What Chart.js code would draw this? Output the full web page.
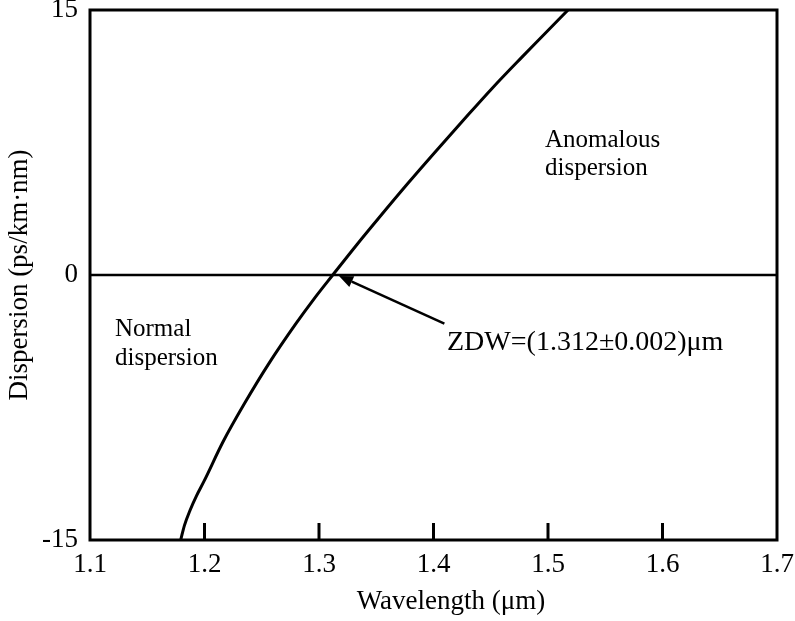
<!DOCTYPE html>
<html><head><meta charset="utf-8">
<script src="https://cdn.jsdelivr.net/npm/chart.js@4.4.0/dist/chart.umd.min.js"></script>
<style>html,body{margin:0;padding:0;background:#fff}</style>
</head><body>
<canvas id="c" width="795" height="621"></canvas>
<script>
const wavelength = [1.1792, 1.1825, 1.1873, 1.1930, 1.1996, 1.2162, 1.2354, 1.2563, 1.2795, 1.2952, 1.312, 1.3332, 1.3515, 1.3777, 1.4009, 1.4262, 1.4511, 1.4766, 1.4974, 1.5175];
const dispersion = [-15, -14.17, -13.33, -12.5, -11.67, -9.44, -7.22, -5.0, -2.78, -1.39, 0, 1.73, 3.17, 5.19, 6.92, 8.77, 10.56, 12.29, 13.67, 15];
const zeroLineX = [1.1, 1.7];
const zeroLineY = [0, 0];
const xTickValues = [1.1, 1.2, 1.3, 1.4, 1.5, 1.6, 1.7];
const yTickValues = [-15, 0, 15];
const xAxisTitle = 'Wavelength (\u03BCm)';
const yAxisTitle = 'Dispersion (ps/km\u00B7nm)';

const FONT = "'Liberation Serif', 'Times New Roman', serif";

const framePlugin = {
  id: 'frame',
  afterDatasetsDraw(chart) {
    const ctx = chart.ctx, a = chart.chartArea;
    const xs = chart.scales.x;
    ctx.save();
    ctx.strokeStyle = '#000';
    ctx.lineWidth = 3;
    xs.ticks.forEach(t => {
      const px = xs.getPixelForValue(t.value);
      if (px > a.left + 2 && px < a.right - 2) {
        ctx.beginPath();
        ctx.moveTo(px, a.bottom);
        ctx.lineTo(px, a.bottom - 17);
        ctx.stroke();
      }
    });
    ctx.strokeRect(a.left, a.top, a.right - a.left, a.bottom - a.top);
    ctx.restore();
  }
};

const annotationPlugin = {
  id: 'notes',
  afterDraw(chart, args, opts) {
    const ctx = chart.ctx, xs = chart.scales.x, ys = chart.scales.y;
    ctx.save();
    ctx.fillStyle = '#000';
    ctx.textBaseline = 'alphabetic';
    ctx.textAlign = 'left';
    opts.texts.forEach(t => {
      ctx.font = t.size + 'px ' + FONT;
      ctx.fillText(t.text, xs.getPixelForValue(t.x), ys.getPixelForValue(t.y));
    });
    // x-axis title, centred on the reference's label position
    ctx.font = opts.xTitle.size + 'px ' + FONT;
    ctx.textAlign = 'center';
    ctx.textBaseline = 'middle';
    ctx.fillText(xAxisTitle, xs.getPixelForValue(opts.xTitle.x), chart.height - opts.xTitle.fromBottom);
    // arrow
    const ar = opts.arrow;
    const x1 = xs.getPixelForValue(ar.from[0]), y1 = ys.getPixelForValue(ar.from[1]);
    const x2 = xs.getPixelForValue(ar.to[0]), y2 = ys.getPixelForValue(ar.to[1]);
    const ang = Math.atan2(y2 - y1, x2 - x1);
    const hl = 14, hw = 6;
    const bx = x2 - hl * Math.cos(ang), by = y2 - hl * Math.sin(ang);
    ctx.strokeStyle = '#000';
    ctx.lineWidth = 2.5;
    ctx.beginPath();
    ctx.moveTo(x1, y1);
    ctx.lineTo(bx, by);
    ctx.stroke();
    ctx.beginPath();
    ctx.moveTo(x2, y2);
    ctx.lineTo(bx + hw * Math.sin(ang), by - hw * Math.cos(ang));
    ctx.lineTo(bx - hw * Math.sin(ang), by + hw * Math.cos(ang));
    ctx.closePath();
    ctx.fill();
    ctx.restore();
  }
};

new Chart(document.getElementById('c'), {
  type: 'line',
  data: {
    datasets: [
      {
        data: wavelength.map((x, i) => ({x: x, y: dispersion[i]})),
        borderColor: '#000', borderWidth: 3, pointRadius: 0,
        cubicInterpolationMode: 'monotone', fill: false
      },
      {
        data: zeroLineX.map((x, i) => ({x: x, y: zeroLineY[i]})),
        borderColor: '#000', borderWidth: 2.5, pointRadius: 0, fill: false
      }
    ]
  },
  options: {
    responsive: false,
    animation: false,
    devicePixelRatio: 1,
    layout: { padding: { top: 10, right: 18, left: 0, bottom: 0 } },
    plugins: {
      legend: { display: false },
      tooltip: { enabled: false },
      notes: {
        texts: [
          { text: 'Anomalous', x: 1.4974, y: 7.25, size: 25 },
          { text: 'dispersion', x: 1.4974, y: 5.66, size: 25 },
          { text: 'Normal', x: 1.1218, y: -3.45, size: 25 },
          { text: 'dispersion', x: 1.1218, y: -5.09, size: 25 },
          { text: 'ZDW=(1.312\u00B10.002)\u03BCm', x: 1.4118, y: -4.25, size: 28 }
        ],
        xTitle: { x: 1.4153, fromBottom: 19, size: 27 },
        arrow: { from: [1.4095, -2.75], to: [1.3175, -0.05] }
      }
    },
    scales: {
      x: {
        type: 'linear', min: 1.1, max: 1.7,
        afterBuildTicks: s => { s.ticks = xTickValues.map(v => ({value: v})); },
        afterFit: s => { s.height = 81; s.paddingLeft = 0; s.paddingRight = 0; },
        grid: { display: false, drawTicks: false },
        border: { display: false },
        ticks: { padding: 9, color: '#000', font: { family: FONT, size: 27 }, maxRotation: 0,
                 callback: v => v.toFixed(1) },
        title: { display: false }
      },
      y: {
        type: 'linear', min: -15, max: 15,
        afterBuildTicks: s => { s.ticks = yTickValues.map(v => ({value: v})); },
        afterFit: s => { s.width = 90; s.paddingTop = 0; s.paddingBottom = 0; },
        grid: { display: false, drawTicks: false },
        border: { display: false },
        ticks: { padding: 12, color: '#000', font: { family: FONT, size: 27 } },
        title: { display: true, text: yAxisTitle, color: '#000',
                 font: { family: FONT, size: 27 }, padding: { top: 4, bottom: 0 } }
      }
    }
  },
  plugins: [framePlugin, annotationPlugin]
});
</script>
</body></html>
